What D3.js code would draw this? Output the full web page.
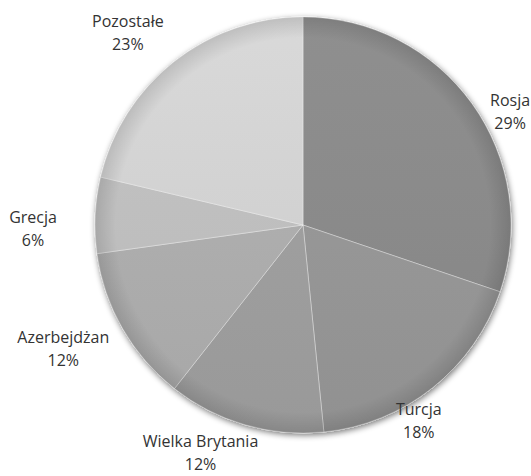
<!DOCTYPE html>
<html><head><meta charset="utf-8">
<script src="https://cdn.jsdelivr.net/npm/d3@7"></script>
<style>html,body{margin:0;padding:0;background:#fff;}</style>
</head><body>
<svg id="c" width="531" height="476"></svg>
<script>
// Data
const categories = ["Rosja", "Turcja", "Wielka Brytania", "Azerbejdżan", "Grecja", "Pozostałe"];
const shares = [30.2, 18.2, 12.2, 12.2, 5.9, 21.3];      // slice sizes as drawn
const percentLabels = ["29%", "18%", "12%", "12%", "6%", "23%"];
const sliceColors = ["#898989", "#959595", "#9d9d9d", "#acacac", "#bdbdbd", "#d0d0d0"];

// Layout
const W = 531, H = 476, cx = 303, cy = 225, R = 208;
const labelAngleNudge = [7, 8, 8, 2.5, -3.5, -4];   // degrees, relative to slice mid
const labelRadius = [236, 228, 250, 270, 270, 260];

const svg = d3.select("#c");
const defs = svg.append("defs");
const f = defs.append("filter").attr("id","sh").attr("x","-20%").attr("y","-20%").attr("width","140%").attr("height","140%");
f.append("feGaussianBlur").attr("in","SourceAlpha").attr("stdDeviation",3).attr("result","b");
f.append("feOffset").attr("in","b").attr("dx",1).attr("dy",2).attr("result","o");
f.append("feComponentTransfer").attr("in","o").attr("result","o2")
  .append("feFuncA").attr("type","linear").attr("slope",0.55);
const m = f.append("feMerge");
m.append("feMergeNode").attr("in","o2");
m.append("feMergeNode").attr("in","SourceGraphic");

sliceColors.forEach((c,i)=>{
  const g = defs.append("linearGradient").attr("id","g"+i)
    .attr("gradientUnits","userSpaceOnUse").attr("x1",0).attr("y1",-R).attr("x2",0).attr("y2",R);
  g.append("stop").attr("offset","0").attr("stop-color", d3.color(c).brighter(0.12));
  g.append("stop").attr("offset","1").attr("stop-color", d3.color(c).darker(0.08));
});
const rg = defs.append("radialGradient").attr("id","edge").attr("gradientUnits","userSpaceOnUse")
  .attr("cx",0).attr("cy",0).attr("r",R);
rg.append("stop").attr("offset","0.9").attr("stop-color","#000").attr("stop-opacity",0);
rg.append("stop").attr("offset","1").attr("stop-color","#000").attr("stop-opacity",0.12);

const pie = d3.pie().sort(null).value(d=>d);
const arcs = pie(shares);
const arc = d3.arc().innerRadius(0).outerRadius(R);

const g = svg.append("g").attr("transform",`translate(${cx},${cy})`);
const pg = g.append("g").attr("filter","url(#sh)");
pg.selectAll("path.s").data(arcs).join("path").attr("class","s")
  .attr("d", arc).attr("fill",(d,i)=>`url(#g${i})`)
  .attr("stroke","rgba(255,255,255,0.35)").attr("stroke-width",1);
g.append("circle").attr("r",R).attr("fill","url(#edge)");

const lab = g.selectAll("g.l").data(arcs).join("g").attr("class","l")
  .attr("transform",(d,i)=>{
    const a = (d.startAngle+d.endAngle)/2 + labelAngleNudge[i]*Math.PI/180;
    const r = labelRadius[i];
    return `translate(${r*Math.sin(a)},${-r*Math.cos(a)})`;
  });
lab.append("text").attr("text-anchor","middle").attr("y",-6)
  .attr("font-family","Open Sans, sans-serif").attr("font-size",16).attr("fill","#333")
  .text((d,i)=>categories[i]);
lab.append("text").attr("text-anchor","middle").attr("y",17)
  .attr("font-family","Open Sans, sans-serif").attr("font-size",16).attr("fill","#333")
  .text((d,i)=>percentLabels[i]);
</script>
</body></html>
